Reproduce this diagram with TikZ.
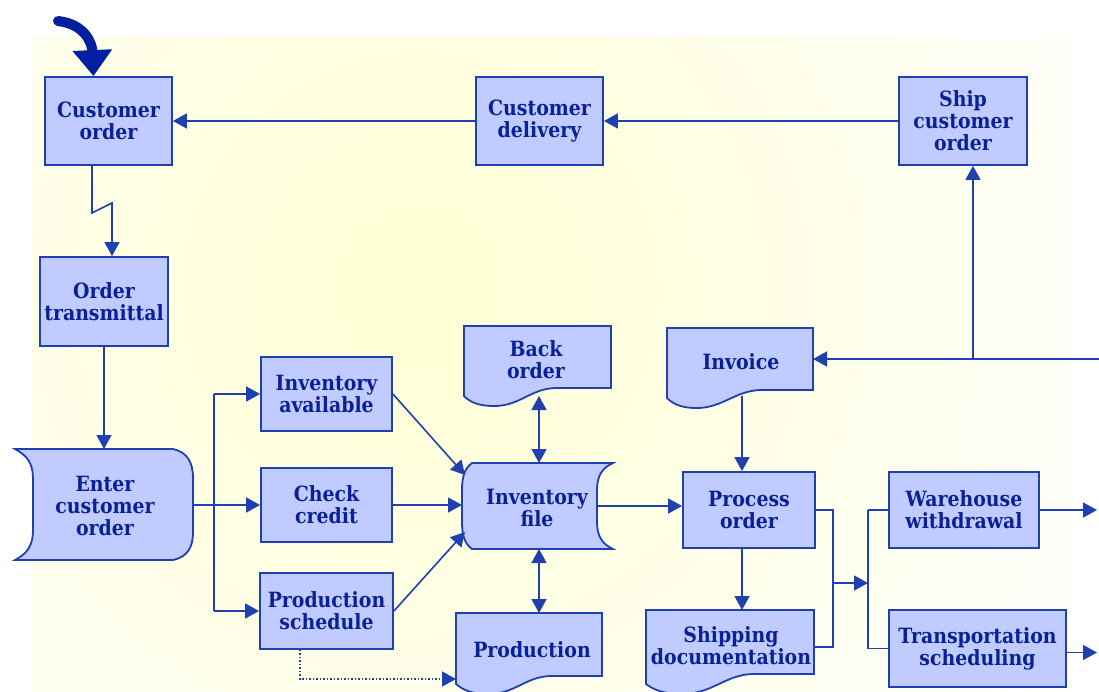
\documentclass[tikz,border=0pt]{standalone}
\usepackage{fontspec}
\setmainfont{DejaVu Serif}[FakeStretch=0.9]
\usetikzlibrary{arrows.meta,calc}
\definecolor{bfill}{RGB}{192,204,255}
\definecolor{bedge}{RGB}{32,64,176}
\definecolor{btext}{RGB}{10,32,150}
\definecolor{bgy}{RGB}{255,255,212}
\definecolor{bgo}{RGB}{254,254,249}
\newcommand\boxfont{\fontsize{21}{22}\selectfont\bfseries}
\tikzset{
 box/.style={draw=bedge, fill=bfill, line width=1.8pt, text=btext, font=\boxfont, align=center, inner sep=0pt},
 txt/.style={text=btext, font=\boxfont, align=center, inner sep=0pt},
 shp/.style={draw=bedge, fill=bfill, line width=1.8pt},
 wire/.style={draw=bedge, line width=1.6pt},
 conn/.style={wire, -{Triangle[length=14pt,width=15pt]}},
 conntwo/.style={wire, {Triangle[length=14pt,width=15pt]}-{Triangle[length=14pt,width=15pt]}},
 dotconn/.style={draw=bedge, line width=1.5pt, dotted, -{Triangle[length=14pt,width=15pt]}},
 fat/.style={draw={rgb,255:red,0;green,32;blue,160}, line width=10pt, line cap=round, -{Triangle[length=26pt,width=38pt]}},
 sz/.style 2 args={minimum width=#1pt, minimum height=#2pt},
}
\begin{document}
\begin{tikzpicture}[x=1pt,y=-1pt]
\useasboundingbox (0,0) rectangle (1099,691);
\fill[white] (0,0) rectangle (1099,691);
\begin{scope}
\clip (32,37) rectangle (1072,691);
\fill[bgo] (32,37) rectangle (1072,691);
\shade[inner color=bgy, outer color=bgo] (420,290) circle (700);
\end{scope}

% special shapes
\path[shp] (15,449) -- (173,449) .. controls (187,452) and (193,462) .. (193,478) -- (193,532) .. controls (193,548) and (187,557) .. (173,560) -- (15,560) .. controls (28,553) and (33,545) .. (33,530) -- (33,479) .. controls (33,464) and (28,456) .. (15,449) -- cycle;
\path[shp] (472,463) -- (613,463) .. controls (602,468) and (597,476) .. (597,490) -- (597,522) .. controls (597,536) and (602,544) .. (613,549) -- (472,549) .. controls (465,544) and (462,536) .. (462,522) -- (462,490) .. controls (462,476) and (465,468) .. (472,463) -- cycle;
\path[shp] (464,326) -- (611,326) -- (611,388) -- (555,388) .. controls (530,389) and (520,406) .. (494,406) .. controls (478,406) and (470,402) .. (464,396) -- cycle;
\path[shp] (667,328) -- (813,328) -- (813,390) -- (760,390) .. controls (735,391) and (722,408) .. (697,408) .. controls (681,408) and (673,404) .. (667,398) -- cycle;
\path[shp] (456,613) -- (602,613) -- (602,676) -- (550,676) .. controls (525,677) and (515,694) .. (488,694) .. controls (472,694) and (463,690) .. (456,684) -- cycle;
\path[shp] (646,610) -- (814,610) -- (814,674) -- (752,674) .. controls (725,675) and (712,694) .. (682,694) .. controls (664,694) and (654,690) .. (646,684) -- cycle;

% nodes
\node[box, sz={127}{88}] (co) at (108.5,121) {Customer\\order};
\node[box, sz={127}{88}] (cd) at (539.5,121) {Customer\\delivery};
\node[box, sz={128}{88}] (sco) at (963,121) {Ship\\customer\\order};
\node[box, sz={128}{89}] (ot) at (104,301.5) {Order\\transmittal};
\node[box, sz={131}{74}] (ia) at (326.5,394) {Inventory\\available};
\node[box, sz={131}{74}] (cc) at (326.5,505) {Check\\credit};
\node[box, sz={133}{76}] (ps) at (326.5,611) {Production\\schedule};
\node[box, sz={132}{76}] (po) at (749,510) {Process\\order};
\node[box, sz={150}{76}] (ww) at (964,510) {Warehouse\\withdrawal};
\node[box, sz={177}{77}] (ts) at (977.5,648.5) {Transportation\\scheduling};
\node[txt] (eco) at (105,506) {Enter\\customer\\order};
\node[txt] (if) at (537,508) {Inventory\\file};
\node[txt] (bo) at (536,360) {Back\\order};
\node[txt] (inv) at (741,362) {Invoice};
\node[txt] (pr) at (532,650) {Production};
\node[txt] (sd) at (731,646) {Shipping\\documentation};

% attachment points
\coordinate (ecoN) at (104,449);
\coordinate (ecoE) at (193,505);
\coordinate (br) at (214,505);
\coordinate (boS) at (539,396);
\coordinate (ifN) at (539,463);
\coordinate (ifS) at (539,549);
\coordinate (prN) at (539,613);
\coordinate (ifNW) at (465,475);
\coordinate (ifW) at (462,505);
\coordinate (ifSW) at (465,532);
\coordinate (ifE) at (597,506);
\coordinate (prW) at (456,679);
\coordinate (invS) at (742,396);
\coordinate (invE) at (813,359);
\coordinate (sdN) at (742,610);
\coordinate (sdE) at (814,647);
\coordinate (mg) at (833,583);
\coordinate (bj) at (868,583);
\coordinate (rin) at (1099,359);
\coordinate (jn) at (973,359);
\coordinate (wwo) at (1097,511);
\coordinate (tso) at (1097,653);
\coordinate (fa) at (58,21);
\coordinate (zz) at (112,203);

% connectors
\draw[conn] (cd.west) -- (co.east);
\draw[conn] (sco.west) -- (cd.east);
\draw[fat] (fa) .. controls (84,24) and (92,42) .. ([xshift=-15pt]co.north);
\draw[conn] ([xshift=-16.5pt]co.south) -- ++(0,47) -- (zz) -- (zz |- ot.north);
\draw[conn] (ot.south) -- (ot.south |- ecoN);
\draw[conn] (ecoE) -- (cc.west);
\draw[wire] (br |- ia.west) -- (br |- ps.west);
\draw[conn] (br |- ia.west) -- (ia.west);
\draw[conn] (br |- ps.west) -- (ps.west);
\draw[conn] (ia.east) -- (ifNW);
\draw[conn] (cc.east) -- (ifW);
\draw[conn] (ps.east) -- (ifSW);
\draw[conntwo] (boS) -- (ifN);
\draw[conntwo] (ifS) -- (prN);
\draw[dotconn] ([xshift=-26.5pt]ps.south) |- (prW);
\draw[conn] (ifE) -- (ifE -| po.west);
\draw[conn] (invS) -- (invS |- po.north);
\draw[conn] (invS |- po.south) -- (sdN);
\draw[wire] (po.east) -| (mg) |- (sdE);
\draw[conn] (mg) -- (bj);
\draw[wire] (bj |- ww.west) -- (bj |- ts.west);
\draw[wire] (bj |- ww.west) -- (ww.west);
\draw[wire] (bj |- ts.west) -- (ts.west);
\draw[conn] (ww.east) -- (ww.east -| wwo);
\draw[conn] ([yshift=-4pt]ts.east) -- ([yshift=-4pt]ts.east -| tso);
\draw[conn] (rin) -- (invE);
\draw[conn] (jn) -- (jn |- sco.south);
\end{tikzpicture}
\end{document}
